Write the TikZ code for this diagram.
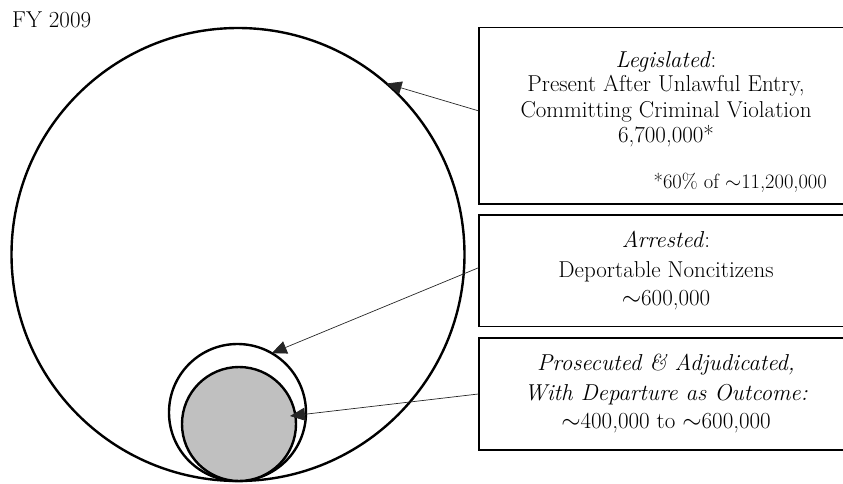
\documentclass[tikz,border=0pt]{standalone}
\usetikzlibrary{arrows.meta}
\definecolor{fillgray}{RGB}{192,192,192}
\begin{document}
\begin{tikzpicture}[x=1pt,y=1pt,
  circ/.style={circle, draw=black, line width=2.4pt, inner sep=0pt, outer sep=0pt},
  boxst/.style={rectangle, draw=black, line width=1.3pt, inner sep=0pt, minimum width=374pt},
  txt/.style={anchor=base, inner sep=0pt, font=\fontsize{23}{27}\selectfont},
  note/.style={anchor=base east, inner sep=0pt, font=\fontsize{20.5}{24}\selectfont},
  arr/.style={-{Triangle[length=15pt,width=13pt]}, line width=0.7pt, draw=black!85}]
\useasboundingbox (0,0) rectangle (843,483);
\clip (0,0) rectangle (843,483);
% title
\node[anchor=base west, inner sep=0pt, font=\fontsize{23}{27}\selectfont] (fy) at (12,455) {FY 2009};
% circles
\node[circ, minimum size=453pt] (big) at (238,228.5) {};
\node[circ, minimum size=137pt] (mid) at (237.5,70.5) {};
\node[circ, fill=fillgray, minimum size=114pt] (core) at (239,59) {};
% boxes
\node[boxst, minimum height=176.3pt] (box1) at (666,367.2) {};
\node[boxst, minimum height=111.7pt] (box2) at (666,212.2) {};
\node[boxst, minimum height=112pt] (box3) at (666,89) {};
% box 1 text
\node[txt] (b1a) at (666,415) {\textit{Legislated}:};
\node[txt] (b1b) at (666,391) {Present After Unlawful Entry,};
\node[txt] (b1c) at (666,366) {Committing Criminal Violation};
\node[txt] (b1d) at (666,341) {6,700,000*};
\node[note] (b1e) at (827,295) {*60\% of $\sim$11,200,000};
% box 2 text
\node[txt] (b2a) at (666,236) {\textit{Arrested}:};
\node[txt] (b2b) at (666,206) {Deportable Noncitizens};
\node[txt] (b2c) at (666,178) {$\sim$600,000};
% box 3 text
\node[txt] (b3a) at (666,113) {\textit{Prosecuted \& Adjudicated,}};
\node[txt] (b3b) at (666,83) {\textit{With Departure as Outcome:}};
\node[txt] (b3c) at (666,55) {$\sim$400,000 to $\sim$600,000};
% arrows
\coordinate (t3) at (290,67);
\draw[arr] ([yshift=5pt]box1.west) -- (big.49);
\draw[arr] ([yshift=3pt]box2.west) -- (mid.60);
\draw[arr] (box3.west) -- (t3);
\end{tikzpicture}
\end{document}
